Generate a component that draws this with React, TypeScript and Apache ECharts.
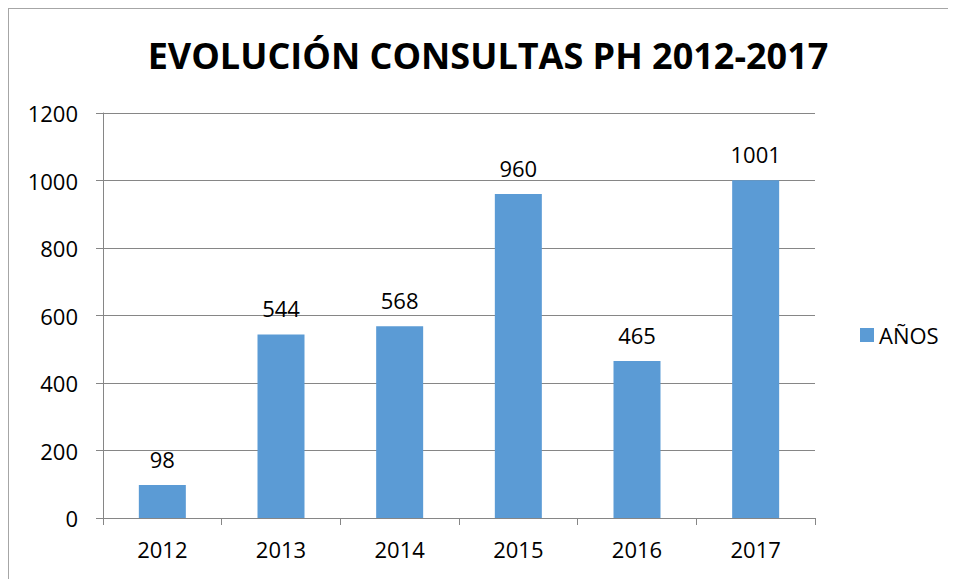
import React, { useEffect, useRef } from "react";
import * as echarts from "echarts";

const categories = ["2012", "2013", "2014", "2015", "2016", "2017"];
const values = [98, 544, 568, 960, 465, 1001];
const seriesName = "AÑOS";
const titleText = "EVOLUCIÓN CONSULTAS PH 2012-2017";

const FONT = "'Open Sans', sans-serif";

export default function App() {
  const ref = useRef<HTMLDivElement>(null);
  useEffect(() => {
    if (!ref.current) return;
    const chart = echarts.init(ref.current, null, { renderer: "svg" });
    chart.setOption({
      animation: false,
      textStyle: { fontFamily: FONT },
      graphic: [
        {
          type: "text",
          x: 479,
          y: 46,
          style: {
            text: titleText,
            fontFamily: FONT,
            fontWeight: "bold",
            fontSize: 36,
            fill: "#000",
            textAlign: "center",
            textVerticalAlign: "middle",
          },
        },
      ],
      legend: {
        left: 846,
        top: 310,
        orient: "vertical",
        icon: "rect",
        itemWidth: 14,
        itemHeight: 14,
        textStyle: { fontFamily: FONT, fontSize: 22, color: "#000" },
        data: [seriesName],
      },
      grid: { left: 94, top: 104, width: 712, height: 405 },
      xAxis: {
        type: "category",
        data: categories,
        axisLine: { lineStyle: { color: "#868686", width: 1 } },
        axisTick: { show: true, length: 7, lineStyle: { color: "#868686" } },
        axisLabel: { color: "#000", fontSize: 22, fontFamily: FONT, margin: 20 },
      },
      yAxis: {
        type: "value",
        min: 0,
        max: 1200,
        interval: 200,
        axisLine: { show: true, lineStyle: { color: "#868686", width: 1 } },
        axisTick: { show: true, length: 7, lineStyle: { color: "#868686" } },
        splitLine: { show: true, lineStyle: { color: "#868686", width: 1 } },
        axisLabel: {
          color: "#000",
          fontSize: 22,
          fontFamily: FONT,
          margin: 25,
          formatter: (v: number) => String(v),
        },
      },
      series: [
        {
          name: seriesName,
          type: "bar",
          data: values,
          barWidth: 47,
          itemStyle: { color: "#5b9bd5" },
          label: {
            show: true,
            position: "top",
            distance: 15,
            color: "#000",
            fontSize: 22,
            fontFamily: FONT,
          },
        },
      ],
    });
    return () => chart.dispose();
  }, []);
  return (
    <div
      style={{
        width: 947,
        height: 570,
        borderLeft: "1px solid #a6a6a6",
        borderTop: "1px solid #a6a6a6",
        background: "#fff",
      }}
    >
      <div ref={ref} style={{ width: 947, height: 570 }} />
    </div>
  );
}
